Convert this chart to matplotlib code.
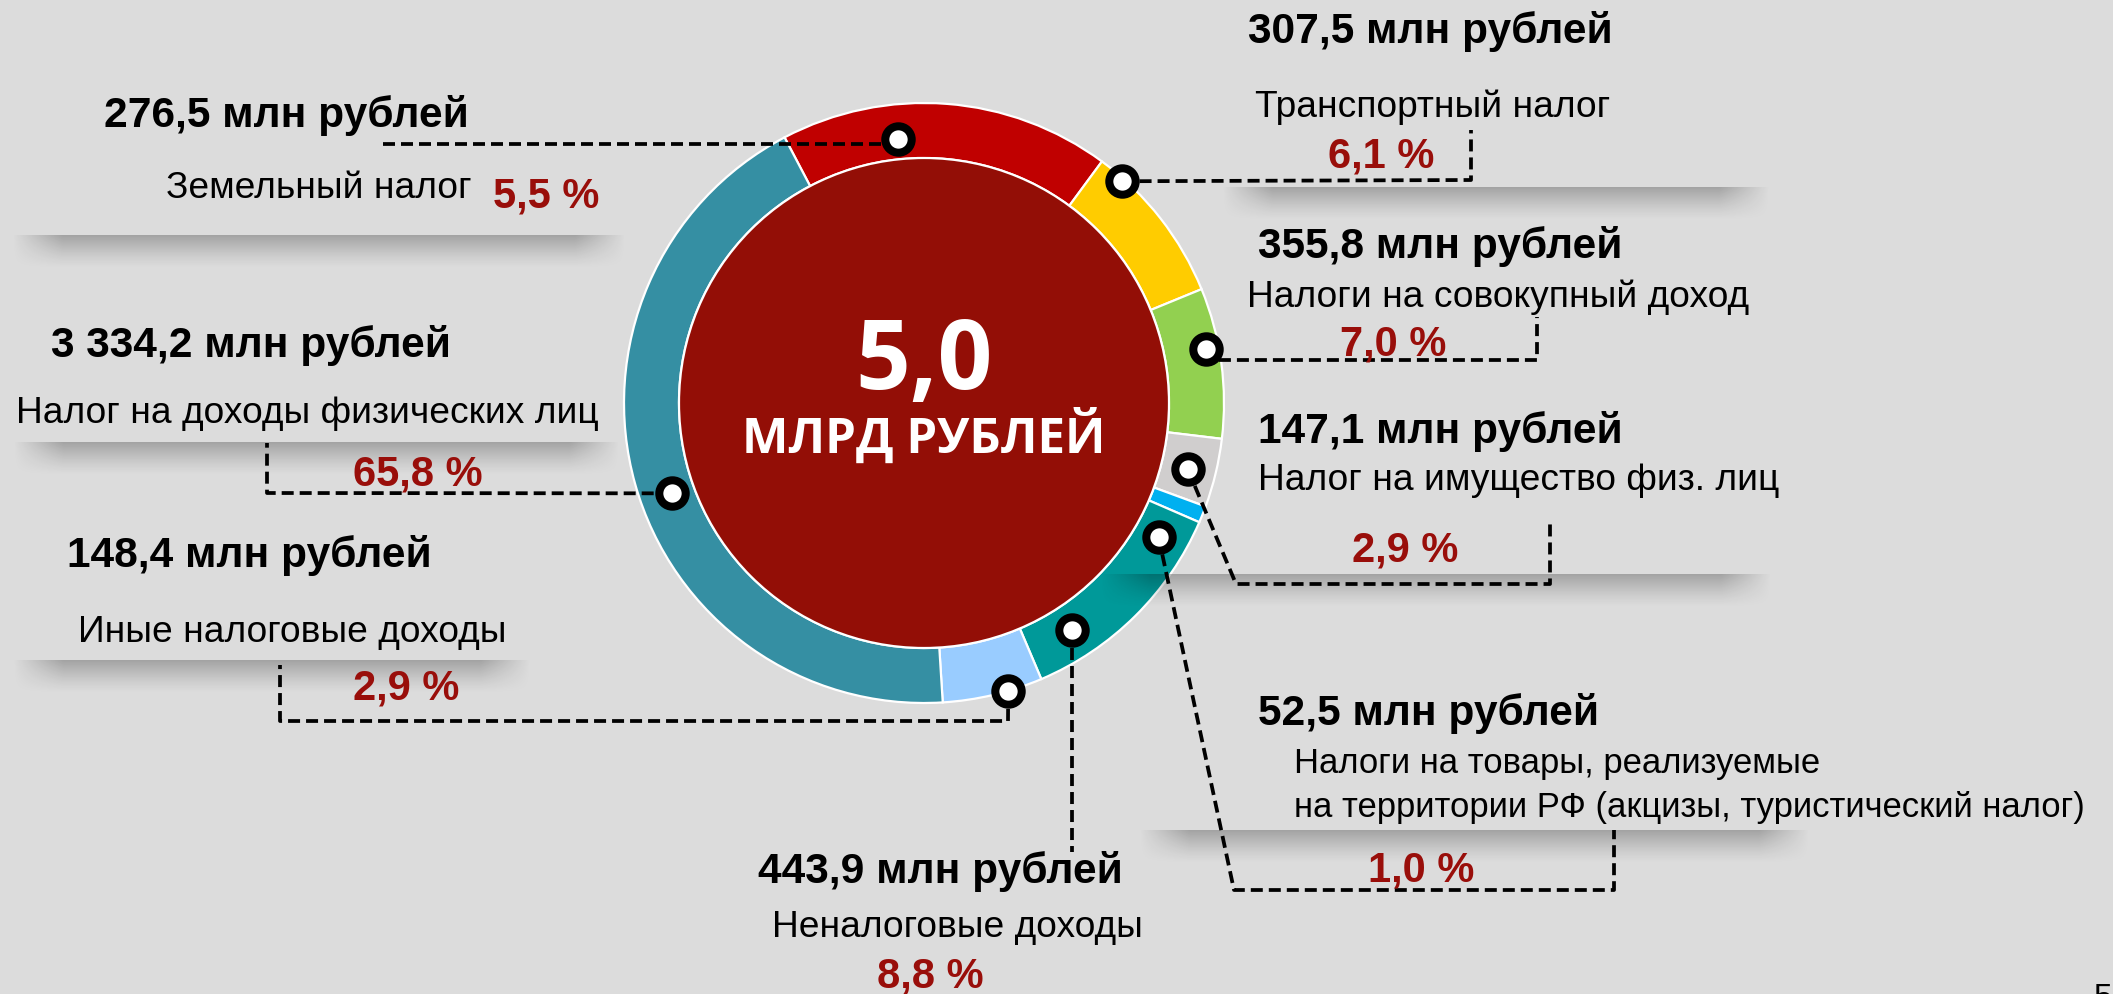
import numpy as np
import matplotlib
matplotlib.use("Agg")
import matplotlib.pyplot as plt
from matplotlib.patches import Circle

W, H = 2113, 994

# --- data ---
amounts = ["276,5", "307,5", "355,8", "147,1", "52,5", "443,9", "148,4", "3 334,2"]
shares = ["5,5", "6,1", "7,0", "2,9", "1,0", "8,8", "2,9", "65,8"]
names = ["Земельный налог", "Транспортный налог", "Налоги на совокупный доход",
         "Налог на имущество физ. лиц",
         "Налоги на товары, реализуемые",
         "Неналоговые доходы", "Иные налоговые доходы",
         "Налог на доходы физических лиц"]
name2 = {4: "на территории РФ (акцизы, туристический налог)"}
total = "5,0"
total_unit = "МЛРД РУБЛЕЙ"
# ring segments as drawn on the slide (% of circle), clockwise from upper left
ring_share = [17.8, 8.7, 8.1, 3.7, 0.9, 12.1, 5.4, 43.3]
ring_colors = ["#C00000", "#FFCC00", "#92D050", "#D0CECE", "#00B0F0",
               "#009999", "#99CCFF", "#358FA3"]

# --- layout (pixel coords, y down) ---
cx, cy, R, ring_w = 924, 403, 300, 55
start_deg = -27.7  # clockwise from top
dot_deg = [-5.7, 41.7, 79.2, 104.1, 119.7, 146.9, 163.7, 250.3]
dot_r = [265, 297, 287, 272, 270, 271, 300, 268]
amount_pos = [(104, 127), (1248, 43), (1258, 258), (1258, 443), (1258, 725),
              (758, 883), (67, 567), (51, 357)]
name_pos = [(166, 198), (1255, 117), (1247, 307), (1258, 490), (1294, 773),
            (772, 937), (78, 642), (16, 423)]
name_size = [26.7, 26.7, 26.7, 26.7, 24.9, 26.7, 26.7, 26.7]
name2_pos = {4: (1294, 817)}
pct_pos = [(493, 207), (1328, 168), (1340, 355), (1352, 562), (1368, 881),
           (877, 987), (353, 700), (353, 485)]
legs = [[(890, 144), (379, 144)],
        [(1471, 180), (1471, 130)],
        [(1215, 360), (1537, 360), (1537, 317)],
        [(1236, 584), (1550, 584), (1550, 519)],
        [(1234, 890), (1614, 890), (1614, 830)],
        [(1072, 852)],
        [(1008, 721), (280, 721), (280, 665)],
        [(267, 493), (267, 443)]]
shadows = [(12, 626, 235), (1222, 1770, 187), (13, 620, 442), (13, 531, 660),
           (1100, 1772, 574), (1139, 1810, 830)]

BG = "#DCDCDC"
RED_TXT = "#990E0A"
FONT = ["Liberation Sans", "DejaVu Sans"]

fig = plt.figure(figsize=(W / 100, H / 100), dpi=100, facecolor=BG)
ax = fig.add_axes([0, 0, 1, 1])
ax.set_facecolor(BG)


def Y(y):
    return H - y


# ring
ax.pie(ring_share, radius=R, center=(cx, Y(cy)), startangle=90 - start_deg,
       counterclock=False, colors=ring_colors,
       wedgeprops=dict(width=ring_w, edgecolor="white", linewidth=1.6, zorder=2))
ax.add_patch(Circle((cx, Y(cy)), R - ring_w, fc="#930E06", ec="white", lw=1.6, zorder=2))

ax.text(cx, Y(389), total, color="white", fontsize=69, fontweight="bold",
        family=["Open Sans", "DejaVu Sans"], ha="center", va="baseline", zorder=6)
ax.text(cx, Y(453), total_unit, color="white", fontsize=35.5, fontweight="bold",
        family=["Open Sans", "DejaVu Sans"], ha="center", va="baseline", zorder=6)


# soft shadows under label blocks
def shadow(x0, x1, ytop, depth=34, alpha=0.26):
    nx, ny = 400, 40
    xs = np.linspace(0, 1, nx)
    ys = np.linspace(0, 1, ny)
    fade = 50.0 / (x1 - x0)
    ax_fade = np.clip(np.minimum(xs, 1 - xs) / fade, 0, 1)
    ay = (1 - ys) ** 1.3
    img = np.zeros((ny, nx, 4))
    img[..., 3] = alpha * np.outer(ay, ax_fade)
    ax.imshow(img, extent=(x0, x1, Y(ytop + depth), Y(ytop)), origin="upper",
              aspect="auto", interpolation="bilinear", zorder=3)


for s in shadows:
    shadow(*s)

# dots and dashed leaders
for i in range(len(amounts)):
    t = np.radians(dot_deg[i])
    dx = cx + dot_r[i] * np.sin(t)
    dy = cy - dot_r[i] * np.cos(t)
    pts = [(dx, dy)] + legs[i]
    ax.plot([p[0] for p in pts], [Y(p[1]) for p in pts], color="black", lw=2.7,
            linestyle=(0, (3.2, 1.6)), zorder=4, solid_joinstyle="miter")
    ax.plot(dx, Y(dy), "o", ms=19, mfc="white", mec="black", mew=5.8, zorder=5)

# labels
for i in range(len(amounts)):
    x, y = amount_pos[i]
    ax.text(x, Y(y), amounts[i] + " млн рублей", fontsize=30.6, fontweight="bold",
            family=FONT, ha="left", va="baseline", zorder=6)
    x, y = name_pos[i]
    ax.text(x, Y(y), names[i], fontsize=name_size[i], family=FONT, ha="left",
            va="baseline", zorder=6)
    if i in name2:
        x, y = name2_pos[i]
        ax.text(x, Y(y), name2[i], fontsize=name_size[i], family=FONT, ha="left",
                va="baseline", zorder=6)
    x, y = pct_pos[i]
    ax.text(x, Y(y), shares[i] + " %", fontsize=30, fontweight="bold",
            color=RED_TXT, family=FONT, ha="left", va="baseline", zorder=6)

# page number, cut by the bottom edge as on the slide
ax.text(2094, Y(983), "5", fontsize=24, family=FONT, ha="left", va="top")

ax.set_xlim(0, W)
ax.set_ylim(0, H)
ax.set_aspect("auto")
ax.axis("off")

fig.savefig("out.png", dpi=100, facecolor=BG)
